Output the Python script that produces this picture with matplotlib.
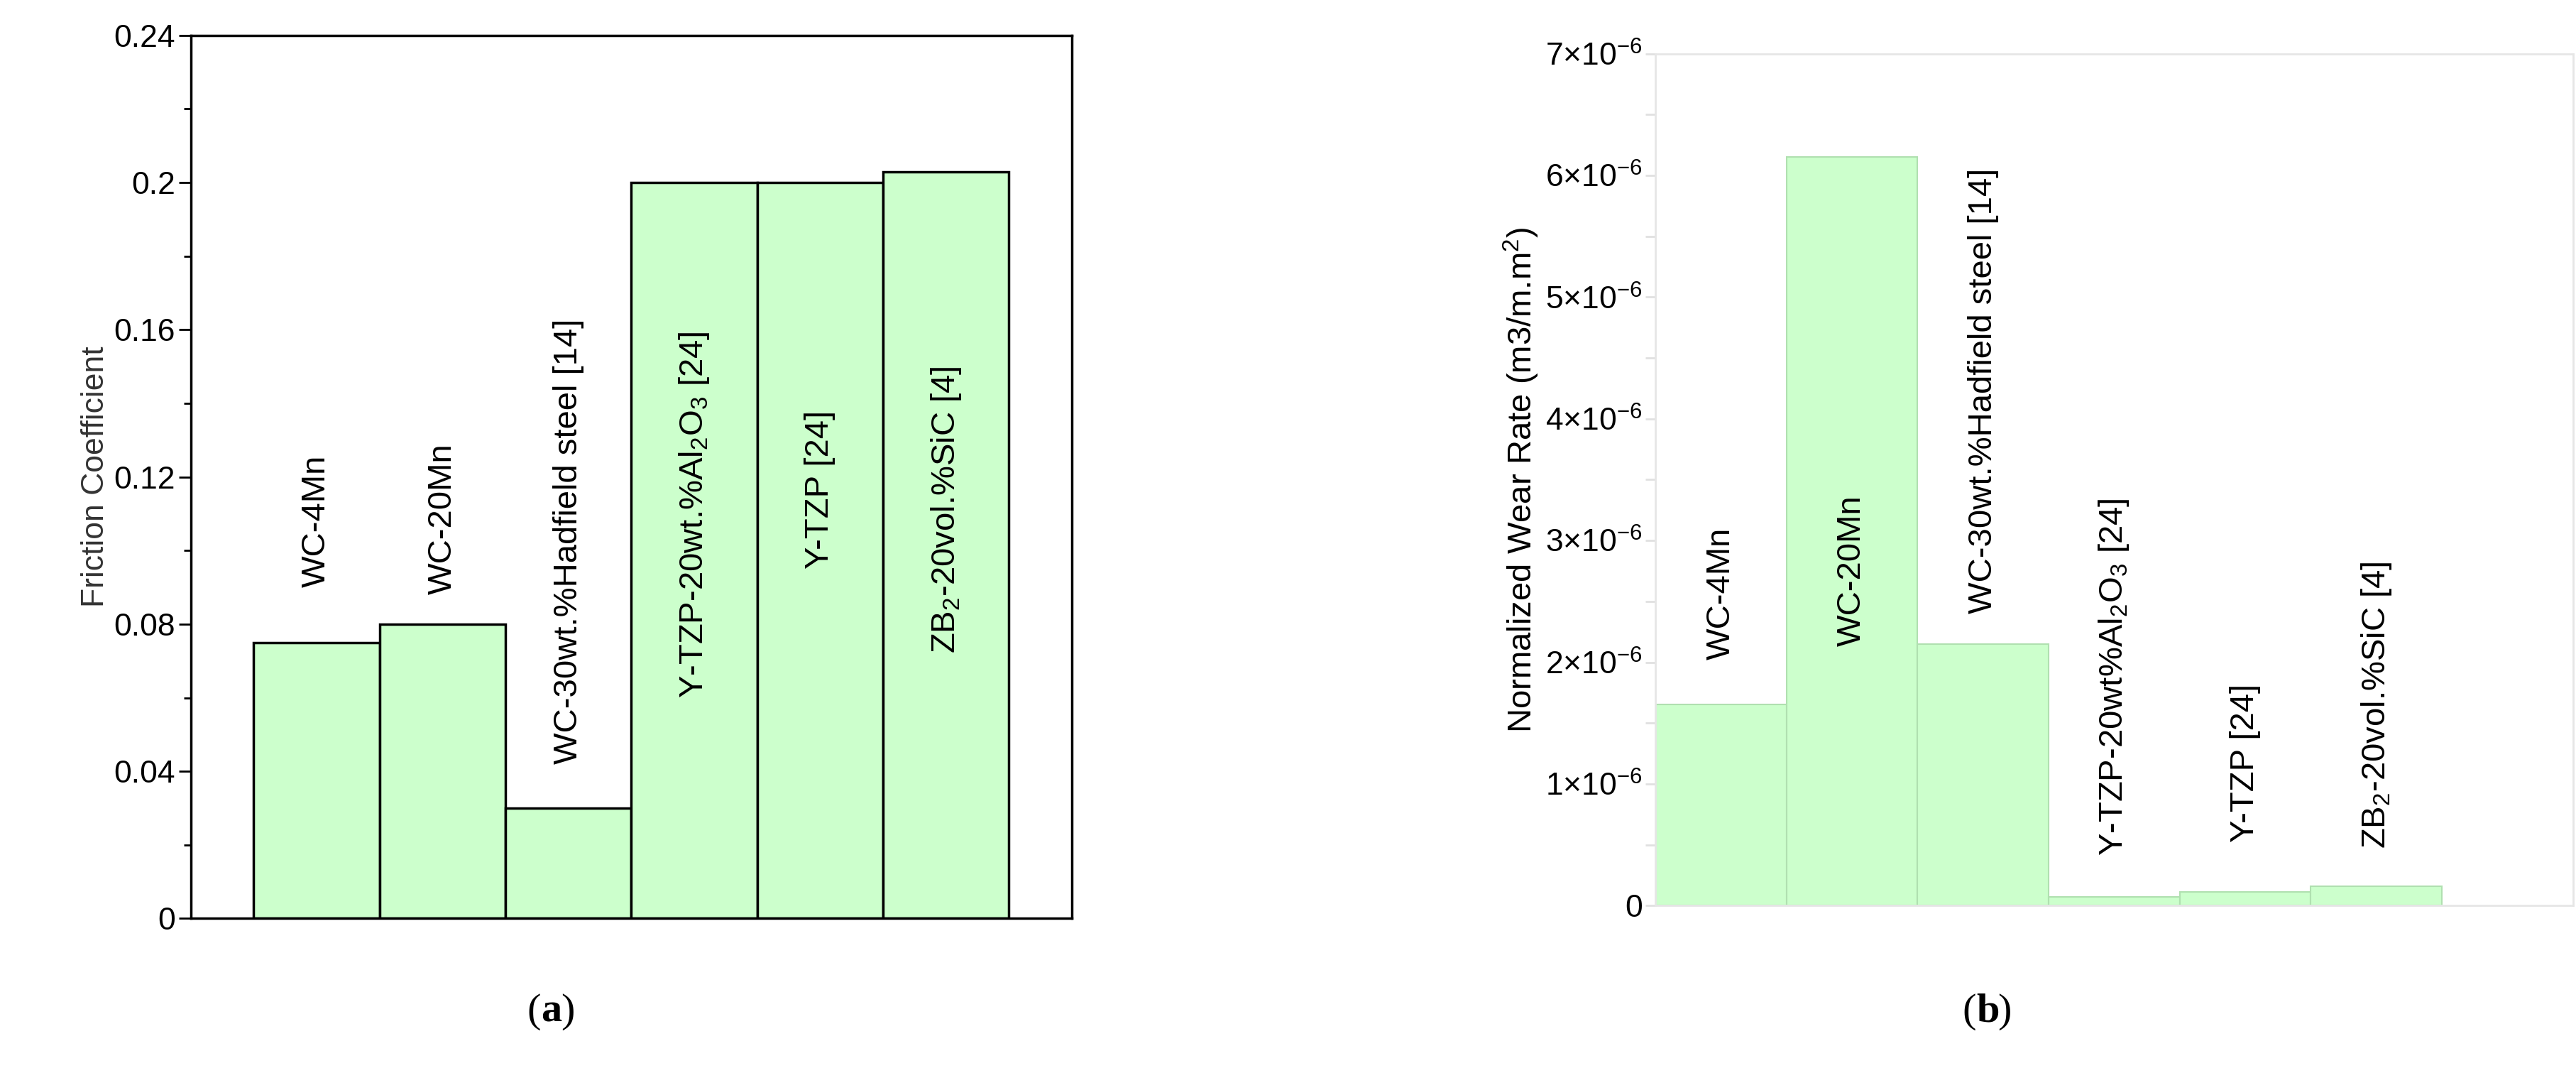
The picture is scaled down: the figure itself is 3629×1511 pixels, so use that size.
import matplotlib.pyplot as plt
from matplotlib.ticker import MultipleLocator

plt.rcParams['font.family'] = ['Liberation Sans', 'DejaVu Sans']
plt.rcParams['mathtext.fontset'] = 'custom'
plt.rcParams['mathtext.rm'] = 'Liberation Sans'

labels_a = ['WC-4Mn', 'WC-20Mn', 'WC-30wt.%Hadfield steel [14]',
            'Y-TZP-20wt.%Al$_2$O$_3$ [24]', 'Y-TZP [24]', 'ZB$_2$-20vol.%SiC [4]']
friction = [0.075, 0.080, 0.030, 0.200, 0.200, 0.203]
label_y_a = [0.090, 0.088, 0.042, 0.060, 0.095, 0.072]

labels_b = ['WC-4Mn', 'WC-20Mn', 'WC-30wt.%Hadfield steel [14]',
            'Y-TZP-20wt%Al$_2$O$_3$ [24]', 'Y-TZP [24]', 'ZB$_2$-20vol.%SiC [4]']
wear = [1.65e-6, 6.15e-6, 2.15e-6, 0.07e-6, 0.11e-6, 0.16e-6]
label_y_b = [2.02e-6, 2.13e-6, 2.40e-6, 0.41e-6, 0.52e-6, 0.47e-6]
wear_ticks = [0, 1e-6, 2e-6, 3e-6, 4e-6, 5e-6, 6e-6, 7e-6]
wear_ticklabels = ['0'] + [r'$%d{\times}10^{-6}$' % i for i in range(1, 8)]

green = '#ccffcc'
fig = plt.figure(figsize=(36.3, 15.11), dpi=100)

# (a) friction coefficient
ax1 = fig.add_axes([0.074, 0.144, 0.342, 0.823])
x = list(range(len(friction)))
ax1.bar(x, friction, width=1.0, color=green, edgecolor='black', linewidth=2.5)
for i, t in enumerate(labels_a):
    ax1.text(i, label_y_a[i], t, rotation=90, ha='center', va='bottom', fontsize=34)
ax1.set_xlim(-1, 6)
ax1.set_ylim(0, 0.24)
ax1.set_xticks([])
ax1.set_yticks([0, 0.04, 0.08, 0.12, 0.16, 0.2, 0.24])
ax1.set_yticklabels(['0', '0.04', '0.08', '0.12', '0.16', '0.2', '0.24'])
ax1.yaxis.set_minor_locator(MultipleLocator(0.02))
ax1.tick_params(axis='y', which='major', labelsize=32, length=12, width=2)
ax1.tick_params(axis='y', which='minor', length=7, width=2)
for s in ax1.spines.values():
    s.set_linewidth(2.5)
ax1.set_ylabel('Friction Coefficient', fontsize=32, color='#333333')

# (b) wear rate
ax2 = fig.add_axes([0.6425, 0.156, 0.356, 0.794])
ax2.bar(x, wear, width=1.0, color=green, edgecolor='#b0e0b0', linewidth=1.5)
for i, t in enumerate(labels_b):
    ax2.text(i, label_y_b[i], t, rotation=90, ha='center', va='bottom', fontsize=34)
ax2.set_xlim(-0.5, 6.5)
ax2.set_ylim(0, 7e-6)
ax2.set_xticks([])
ax2.set_yticks(wear_ticks)
ax2.set_yticklabels(wear_ticklabels)
ax2.yaxis.set_minor_locator(MultipleLocator(0.5e-6))
ax2.tick_params(axis='y', which='both', labelsize=32, length=10, width=2, color='#e0e0e0')
for s in ax2.spines.values():
    s.set_color('#e6e6e6')
    s.set_linewidth(2)
ax2.set_ylabel('Normalized Wear Rate (m3/m.m$^2$)', fontsize=34, labelpad=4)

fig.text(0.21, 0.057, '(', fontsize=42, family='Liberation Serif', ha='right', va='center')
fig.text(0.21, 0.057, 'a', fontsize=42, family='Liberation Serif', weight='bold', ha='left', va='center')
fig.text(0.2177, 0.057, ')', fontsize=42, family='Liberation Serif', ha='left', va='center')
fig.text(0.767, 0.057, '(', fontsize=42, family='Liberation Serif', ha='right', va='center')
fig.text(0.767, 0.057, 'b', fontsize=42, family='Liberation Serif', weight='bold', ha='left', va='center')
fig.text(0.7752, 0.057, ')', fontsize=42, family='Liberation Serif', ha='left', va='center')

fig.savefig('out.png', dpi=100)
